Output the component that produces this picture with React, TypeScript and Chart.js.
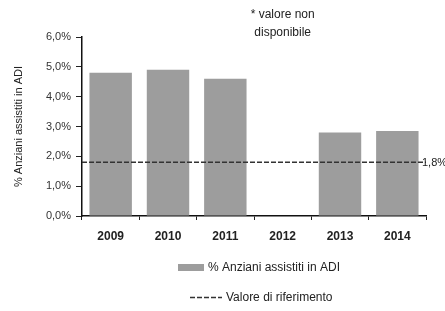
import React, { useEffect, useRef } from "react";
import { Chart, registerables } from "chart.js";

Chart.register(...registerables);

const years = ["2009", "2010", "2011", "2012", "2013", "2014"];
const anzianiADI: (number | null)[] = [4.8, 4.9, 4.6, null, 2.8, 2.85];
const valoreRiferimento = 1.8;
const yTicks = [0, 1, 2, 3, 4, 5, 6];
const seriesLabel = "% Anziani assistiti in ADI";
const refLabel = "Valore di riferimento";
const noteLines = ["* valore non", "disponibile"];
const refValueLabel = "1,8%";

const FONT = "'Liberation Sans', Arial, sans-serif";
const BAR_COLOR = "#9d9d9d";
const LINE_COLOR = "#333333";

const overlay = {
  id: "overlay",
  afterDraw(chart: any) {
    const ctx = chart.ctx;
    const xs = chart.scales.x;
    const ys = chart.scales.y;
    ctx.save();
    const cx = xs.getPixelForValue(3);
    ctx.fillStyle = "#222";
    ctx.font = `12px ${FONT}`;
    ctx.textAlign = "center";
    ctx.textBaseline = "middle";
    ctx.fillText(noteLines[0], cx, 15);
    ctx.fillText(noteLines[1], cx, 33);
    ctx.textAlign = "left";
    ctx.font = `11px ${FONT}`;
    ctx.fillText(refValueLabel, chart.chartArea.right - 4, ys.getPixelForValue(valoreRiferimento) + 1);
    const lx = 178;
    ctx.fillStyle = BAR_COLOR;
    ctx.fillRect(lx, 264, 26, 7);
    ctx.fillStyle = "#222";
    ctx.font = `12px ${FONT}`;
    ctx.fillText(seriesLabel, lx + 30, 268);
    ctx.strokeStyle = LINE_COLOR;
    ctx.lineWidth = 1.5;
    ctx.setLineDash([5, 2]);
    ctx.beginPath();
    ctx.moveTo(lx + 12, 297.5);
    ctx.lineTo(lx + 44, 297.5);
    ctx.stroke();
    ctx.setLineDash([]);
    ctx.fillText(refLabel, lx + 48, 298);
    ctx.restore();
  },
};

export default function App() {
  const ref = useRef<HTMLCanvasElement>(null);
  useEffect(() => {
    if (!ref.current) return;
    const chart = new Chart(ref.current, {
      type: "bar",
      data: {
        labels: years,
        datasets: [
          {
            type: "bar",
            label: seriesLabel,
            data: anzianiADI,
            backgroundColor: BAR_COLOR,
            categoryPercentage: 1,
            barPercentage: 0.74,
            grouped: false,
            xAxisID: "x",
            order: 2,
          } as any,
          {
            type: "line",
            label: refLabel,
            data: [
              { x: 0, y: valoreRiferimento },
              { x: 1, y: valoreRiferimento },
            ],
            xAxisID: "x2",
            borderColor: LINE_COLOR,
            borderWidth: 1.5,
            borderDash: [5, 2],
            pointRadius: 0,
            fill: false,
            order: 1,
          } as any,
        ],
      },
      options: {
        animation: false,
        responsive: true,
        maintainAspectRatio: false,
        layout: { padding: { top: 37, right: 19, left: 0, bottom: 0 } },
        plugins: {
          legend: { display: false },
          tooltip: { enabled: false },
        },
        scales: {
          x: {
            type: "category",
            offset: true,
            grid: {
              display: true,
              drawOnChartArea: false,
              offset: true,
              tickLength: 4,
              color: "#222",
            },
            border: { display: true, color: "#111", width: 1.5 },
            ticks: {
              color: "#222",
              font: { family: FONT, size: 12, weight: "bold" },
              padding: 9,
              maxRotation: 0,
            },
            afterFit(scale: any) {
              scale.height = 95;
            },
          },
          x2: {
            type: "linear",
            min: 0,
            max: 1,
            offset: false,
            display: false,
          },
          y: {
            min: 0,
            max: 6,
            afterBuildTicks(scale: any) {
              scale.ticks = yTicks.map((v) => ({ value: v }));
            },
            grid: {
              display: true,
              drawOnChartArea: false,
              tickLength: 6,
              color: "#222",
            },
            border: { display: true, color: "#111", width: 1.5 },
            ticks: {
              color: "#333",
              font: { family: FONT, size: 11 },
              padding: 5,
              callback: (v: any) => Number(v).toFixed(1).replace(".", ",") + "%",
            },
            title: {
              display: true,
              text: seriesLabel,
              color: "#222",
              font: { family: FONT, size: 11 },
              padding: { top: 12, bottom: 0 },
            },
            afterFit(scale: any) {
              scale.width = 82;
            },
          },
        },
      } as any,
      plugins: [overlay],
    });
    return () => chart.destroy();
  }, []);
  return (
    <div style={{ position: "absolute", left: 0, top: 0, width: 445, height: 311, background: "#fff" }}>
      <canvas ref={ref} />
    </div>
  );
}
